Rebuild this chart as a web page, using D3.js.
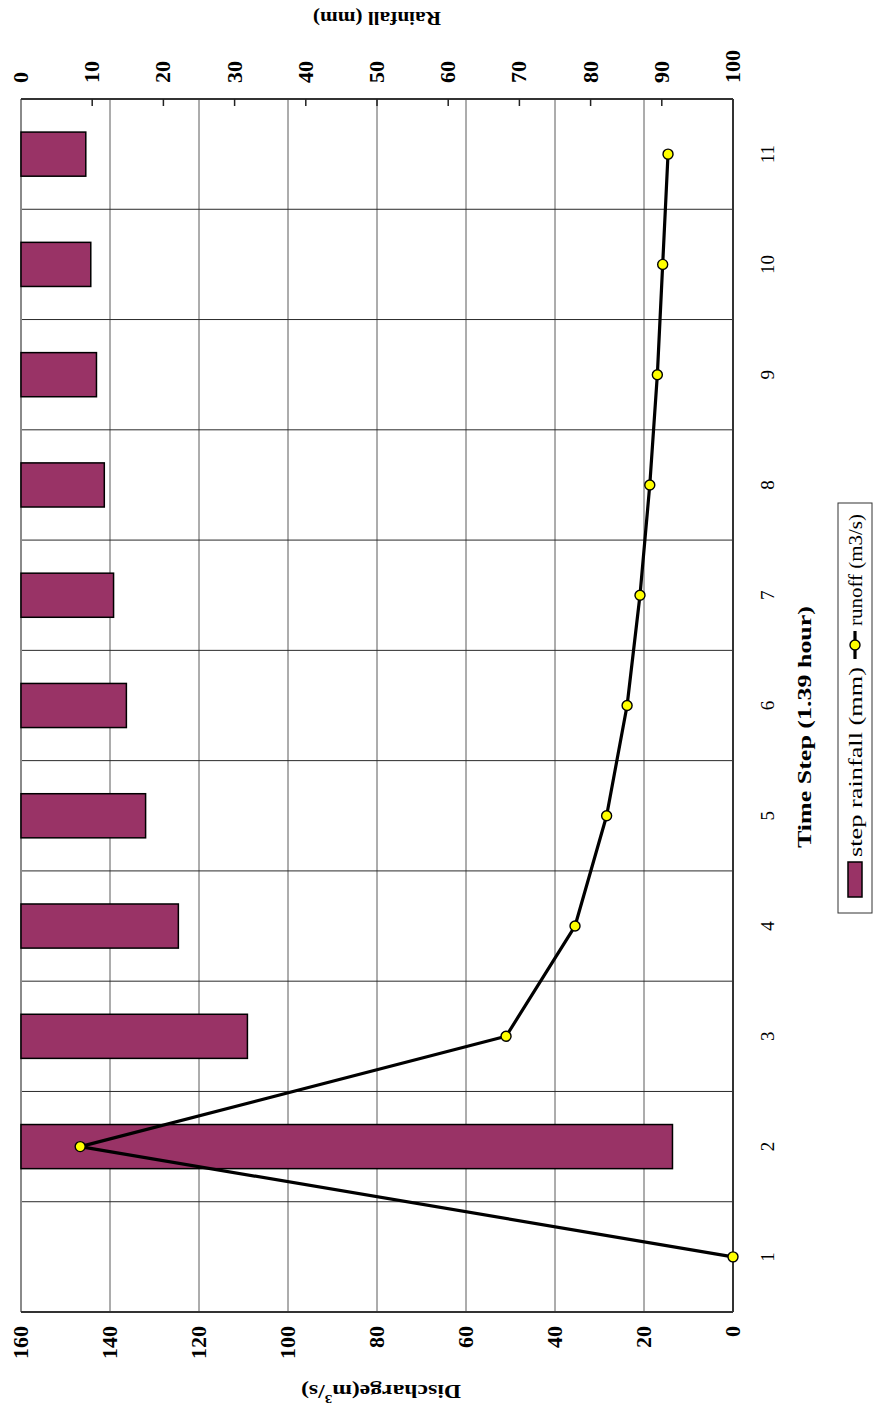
<!DOCTYPE html>
<html>
<head>
<meta charset="utf-8">
<script src="https://cdn.jsdelivr.net/npm/d3@7"></script>
<style>
  body { margin: 0; background: #fff; }
  text { font-family: "Liberation Serif", "Times New Roman", serif; fill: #000; }
</style>
</head>
<body>
<script>
// Rainfall-runoff event: step rainfall (bars, hanging from the top axis) and runoff hydrograph (line)
const steps = [1, 2, 3, 4, 5, 6, 7, 8, 9, 10, 11];
const rainfall = [0, 91.5, 31.8, 22.1, 17.5, 14.8, 13.0, 11.7, 10.6, 9.8, 9.1];      // mm
const runoff = [0, 146.7, 51.0, 35.5, 28.4, 23.8, 20.9, 18.7, 17.0, 15.8, 14.6];     // m3/s
const dischargeTicks = [0, 20, 40, 60, 80, 100, 120, 140, 160];
const rainTicks = [0, 10, 20, 30, 40, 50, 60, 70, 80, 90, 100];

const W = 874, H = 1415;
const svg = d3.select("body").append("svg").attr("width", W).attr("height", H);

// The chart is laid out in landscape and turned a quarter turn counter-clockwise onto the page.
const g = svg.append("g").attr("transform", `translate(0,${H}) rotate(-90)`);

const plot = { left: 103, right: 1316, top: 21, bottom: 733 };

const x = d3.scaleBand().domain(steps).range([plot.left, plot.right]);
const yQ = d3.scaleLinear().domain([0, 160]).range([plot.bottom, plot.top]);
const yR = d3.scaleLinear().domain([0, 100]).range([plot.top, plot.bottom]);
const bw = x.bandwidth();
const cx = s => x(s) + bw / 2;
const digitW = 11; // advance per digit of the axis numbers

// discharge gridlines
g.append("g").selectAll("line").data(dischargeTicks.filter(v => v > 0 && v < 160)).join("line")
  .attr("x1", plot.left).attr("x2", plot.right)
  .attr("y1", d => yQ(d)).attr("y2", d => yQ(d))
  .attr("stroke", "#5a5a5a").attr("stroke-width", 1);

// category gridlines (between time steps)
g.append("g").selectAll("line").data(steps.slice(1)).join("line")
  .attr("x1", d => x(d)).attr("x2", d => x(d))
  .attr("y1", plot.top).attr("y2", plot.bottom)
  .attr("stroke", "#2a2a2a").attr("stroke-width", 1);

// plot frame
g.append("line").attr("x1", plot.left).attr("x2", plot.right).attr("y1", plot.top).attr("y2", plot.top)
  .attr("stroke", "#8a8a8a").attr("stroke-width", 2);
g.append("line").attr("x1", plot.left).attr("x2", plot.right).attr("y1", plot.bottom).attr("y2", plot.bottom)
  .attr("stroke", "#333").attr("stroke-width", 2);
g.append("line").attr("x1", plot.left).attr("x2", plot.left).attr("y1", plot.top).attr("y2", plot.bottom)
  .attr("stroke", "#333").attr("stroke-width", 2);
g.append("line").attr("x1", plot.right).attr("x2", plot.right).attr("y1", plot.top).attr("y2", plot.bottom)
  .attr("stroke", "#333").attr("stroke-width", 2);

// rainfall axis ticks (inside)
g.append("g").selectAll("line").data(rainTicks.filter(v => v > 0 && v < 100)).join("line")
  .attr("x1", plot.right).attr("x2", plot.right - 7)
  .attr("y1", d => yR(d)).attr("y2", d => yR(d))
  .attr("stroke", "#222").attr("stroke-width", 1.5);

// rainfall bars
const barData = steps.map((s, i) => ({ s, v: rainfall[i] })).filter(d => d.v > 0);
g.append("g").selectAll("rect").data(barData).join("rect")
  .attr("x", d => x(d.s) + bw * 0.3).attr("width", bw * 0.4)
  .attr("y", yR(0)).attr("height", d => yR(d.v) - yR(0))
  .attr("fill", "#993366").attr("stroke", "#000").attr("stroke-width", 1.5);

// runoff hydrograph
const pts = steps.map((s, i) => ({ s, v: runoff[i] }));
g.append("path").datum(pts)
  .attr("d", d3.line().x(d => cx(d.s)).y(d => yQ(d.v)))
  .attr("fill", "none").attr("stroke", "#000").attr("stroke-width", 3.2).attr("stroke-linejoin", "round");
g.append("g").selectAll("circle").data(pts).join("circle")
  .attr("cx", d => cx(d.s)).attr("cy", d => yQ(d.v)).attr("r", 5)
  .attr("fill", "#ffff00").attr("stroke", "#000").attr("stroke-width", 1.4);

// time step labels
g.append("g").selectAll("text").data(steps).join("text")
  .attr("x", d => cx(d)).attr("y", 767)
  .attr("text-anchor", "middle").attr("dominant-baseline", "central")
  .attr("font-size", 19).text(d => d);

g.append("text").attr("x", 688).attr("y", 804)
  .attr("text-anchor", "middle").attr("dominant-baseline", "central")
  .attr("font-size", 19).attr("font-weight", "bold")
  .attr("textLength", 242).attr("lengthAdjust", "spacingAndGlyphs")
  .text("Time Step (1.39 hour)");

// discharge axis labels
g.append("g").selectAll("text").data(dischargeTicks).join("text")
  .attr("x", 89).attr("y", d => yQ(d))
  .attr("text-anchor", "end").attr("dominant-baseline", "central")
  .attr("font-size", 20).attr("font-weight", "bold")
  .attr("textLength", d => String(d).length * digitW).attr("lengthAdjust", "spacingAndGlyphs")
  .text(d => d);

const qTitle = g.append("text")
  .attr("transform", `translate(23,${(plot.top + plot.bottom) / 2 + 4}) rotate(-90)`)
  .attr("text-anchor", "middle").attr("dominant-baseline", "central")
  .attr("font-size", 19).attr("font-weight", "bold")
  .attr("textLength", 160).attr("lengthAdjust", "spacingAndGlyphs");
qTitle.append("tspan").text("Discharge(m");
qTitle.append("tspan").attr("font-size", 12).attr("baseline-shift", "super").text("3");
qTitle.append("tspan").text("/s)");

// rainfall axis labels
g.append("g").selectAll("text").data(rainTicks).join("text")
  .attr("x", 1332).attr("y", d => yR(d))
  .attr("text-anchor", "start").attr("dominant-baseline", "central")
  .attr("font-size", 20).attr("font-weight", "bold")
  .attr("textLength", d => String(d).length * digitW).attr("lengthAdjust", "spacingAndGlyphs")
  .text(d => d);

g.append("text")
  .attr("transform", `translate(1397,${(plot.top + plot.bottom) / 2}) rotate(-90)`)
  .attr("text-anchor", "middle").attr("dominant-baseline", "central")
  .attr("font-size", 19).attr("font-weight", "bold")
  .attr("textLength", 128).attr("lengthAdjust", "spacingAndGlyphs")
  .text("Rainfall (mm)");

// legend
const lg = g.append("g");
lg.append("rect").attr("x", 502).attr("y", 838).attr("width", 410).attr("height", 34)
  .attr("fill", "#fff").attr("stroke", "#333").attr("stroke-width", 1);
lg.append("rect").attr("x", 518).attr("y", 848).attr("width", 35).attr("height", 14)
  .attr("fill", "#993366").attr("stroke", "#000").attr("stroke-width", 1.5);
lg.append("text").attr("x", 558).attr("y", 855).attr("dominant-baseline", "central")
  .attr("font-size", 19).attr("textLength", 190).attr("lengthAdjust", "spacingAndGlyphs")
  .text("step rainfall (mm)");
lg.append("line").attr("x1", 756).attr("x2", 784).attr("y1", 855).attr("y2", 855)
  .attr("stroke", "#000").attr("stroke-width", 3.2);
lg.append("circle").attr("cx", 770).attr("cy", 855).attr("r", 5)
  .attr("fill", "#ffff00").attr("stroke", "#000").attr("stroke-width", 1.4);
lg.append("text").attr("x", 789).attr("y", 855).attr("dominant-baseline", "central")
  .attr("font-size", 19).attr("textLength", 112).attr("lengthAdjust", "spacingAndGlyphs")
  .text("runoff (m3/s)");
</script>
</body>
</html>
